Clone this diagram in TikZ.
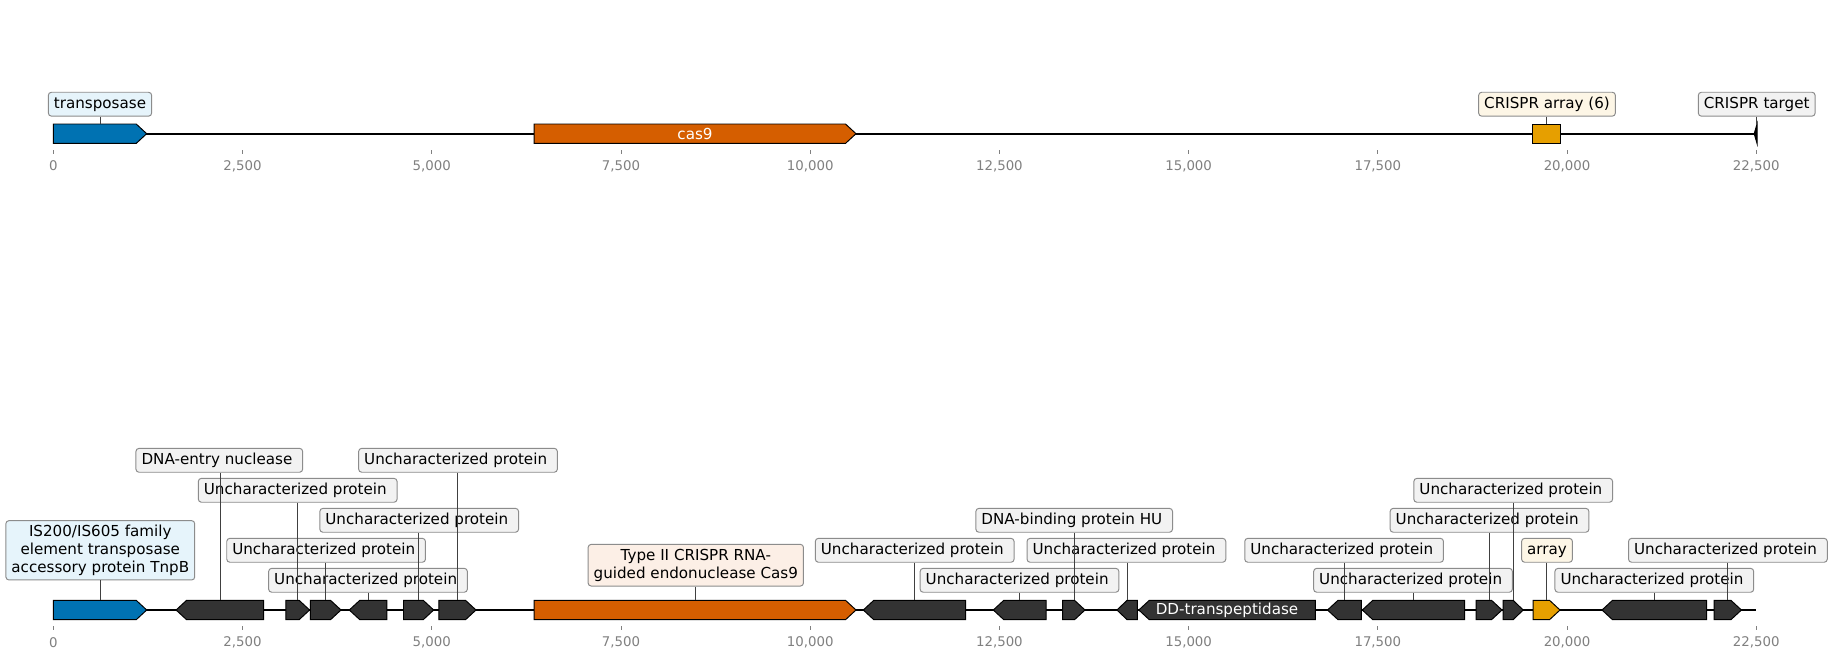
\documentclass[tikz,border=0pt]{standalone}
\usepackage{fontspec}
\setmainfont{DejaVu Sans}
\definecolor{cblue}{HTML}{0072B2}
\definecolor{cverm}{HTML}{D55E00}
\definecolor{corange}{HTML}{E69F00}
\definecolor{cdark}{HTML}{333333}
\definecolor{bxblue}{HTML}{E6F4FB}
\definecolor{bxverm}{HTML}{FCEFE6}
\definecolor{bxorange}{HTML}{FDF6E6}
\definecolor{bxgray}{HTML}{F2F2F2}
\definecolor{tickgray}{HTML}{808080}
\newcommand\lblfont{\fontsize{10.9}{12.8}\selectfont}
\newcommand\tkfont{\fontsize{9.6}{11}\selectfont}
\newcommand\trsp{\kern3.4pt}
% forward gene: name, x1, x2, yc, colour
\newcommand\gfwd[5]{%
  \pgfmathsetmacro\gfhd{min(10.5,(#3-#2)/2)}%
  \pgfmathsetmacro\gfsh{#3-\gfhd}%
  \draw[feat, fill=#5] (#2,#4-9.7) -- (\gfsh,#4-9.7) -- (#3,#4) -- (\gfsh,#4+9.7) -- (#2,#4+9.7) -- cycle;
  \coordinate (#1) at ({(#2+#3)/2},#4-9.7);}
% reverse gene
\newcommand\grev[5]{%
  \pgfmathsetmacro\gfhd{min(10.5,(#3-#2)/2)}%
  \pgfmathsetmacro\gfsh{#2+\gfhd}%
  \draw[feat, fill=#5] (#3,#4-9.7) -- (\gfsh,#4-9.7) -- (#2,#4) -- (\gfsh,#4+9.7) -- (#3,#4+9.7) -- cycle;
  \coordinate (#1) at ({(#2+#3)/2},#4-9.7);}
\begin{document}
\begin{tikzpicture}[x=0.72pt,y=-0.72pt,
  feat/.style={draw=black, line width=0.7pt, line join=miter},
  lbl/.style={draw=black!45, line width=0.7pt, rounded corners=2.2pt, inner xsep=4pt, inner ysep=0pt,
    minimum height=17.2pt, text height=8.1pt, text depth=2.5pt, font=\lblfont, fill=#1},
  lbl/.default=bxgray,
  lblm/.style={draw=black!45, line width=0.7pt, rounded corners=2.2pt, inner xsep=4pt, inner ysep=0pt,
    align=center, font=\lblfont, fill=#1},
  leader/.style={draw=black!75, line width=0.5pt},
  axisline/.style={draw=black, line width=1.4pt},
  tickmark/.style={draw=tickgray, line width=0.6pt},
  ticklbl/.style={font=\tkfont, text=tickgray, inner sep=0pt},
  inlbl/.style={font=\lblfont, text=white, inner sep=0pt}]
\useasboundingbox (0,0) rectangle (1833,659);
\fill[white] (0,0) rectangle (1833,659);

% ---------------- top track ----------------
\coordinate (ta) at (53.3,133.7);
\coordinate (tb) at (1756.3,133.7);
\draw[axisline] (ta) -- (tb);
\foreach \k/\t in {0/0,1/{2,500},2/{5,000},3/{7,500},4/{10,000},5/{12,500},6/{15,000},7/{17,500},8/{20,000},9/{22,500}}{
  \draw[tickmark] (53.3+\k*189.22,150) -- (53.3+\k*189.22,153.6);
  \node[ticklbl] (tt\k) at (53.3+\k*189.22,166) {\t};
}
\gfwd{t1}{53.3}{146.7}{133.7}{cblue}
\gfwd{t2}{534.2}{856}{133.7}{cverm}
\node[inlbl] (t2l) at (695,133.7) {cas9};
\draw[feat, fill=corange] (1532.7,124) rectangle (1560.7,143.4);
\coordinate (t3) at (1546.7,124);
\draw[feat, fill=black] (1757,124) -- (1757,143.4) -- (1754.2,133.7) -- cycle;
\coordinate (t4) at (1756.3,124);

\node[lbl=bxblue] (lt1) at (100,104.2) {transposase};
\node[lbl=bxorange] (lt3) at (1547,104.2) {CRISPR array (6)};
\node[lbl] (lt4) at (1756.7,104.2) {CRISPR target};
\draw[leader] (lt1.south -| t1) -- (t1);
\draw[leader] (lt3.south -| t3) -- (t3);
\draw[leader] (lt4.south -| t4) -- (t4);

% ---------------- bottom track ----------------
\coordinate (ba) at (53.3,610);
\coordinate (bb) at (1756.3,610);
\draw[axisline] (ba) -- (bb);
\foreach \k/\t in {0/0,1/{2,500},2/{5,000},3/{7,500},4/{10,000},5/{12,500},6/{15,000},7/{17,500},8/{20,000},9/{22,500}}{
  \draw[tickmark] (53.3+\k*189.22,626.3) -- (53.3+\k*189.22,629.9);
  \node[ticklbl] (bt\k) at (53.3+\k*189.22,642.3) {\t};
}
\gfwd{b1}{53.3}{146.7}{610}{cblue}
\grev{b2}{176.1}{263.7}{610}{cdark}
\gfwd{b3}{285.9}{309.6}{610}{cdark}
\gfwd{b4}{310.4}{341}{610}{cdark}
\grev{b5}{349.3}{386.9}{610}{cdark}
\gfwd{b6}{403.5}{433.7}{610}{cdark}
\gfwd{b7}{438.8}{476}{610}{cdark}
\gfwd{b8}{534.2}{856}{610}{cverm}
\grev{b9}{863.3}{965.7}{610}{cdark}
\grev{b10}{993.3}{1046}{610}{cdark}
\gfwd{b11}{1062.7}{1085}{610}{cdark}
\grev{b12}{1116.9}{1137.3}{610}{cdark}
\grev{b13}{1138.8}{1315.4}{610}{cdark}
\node[inlbl] (b13l) at (1227,610) {DD-transpeptidase};
\grev{b14}{1327.5}{1361.3}{610}{cdark}
\grev{b15}{1362.3}{1464.6}{610}{cdark}
\gfwd{b16}{1476.2}{1502}{610}{cdark}
\gfwd{b17}{1503}{1523.2}{610}{cdark}
\gfwd{b18}{1533}{1560}{610}{corange}
\grev{b19}{1602}{1706.5}{610}{cdark}
\gfwd{b20}{1714}{1741.4}{610}{cdark}

\node[lblm=bxblue, minimum height=42.7pt] (lb1) at (100.3,550.3) {IS200/IS605 family\\element transposase\\accessory protein TnpB};
\node[lbl] (lb2) at (219.3,460.3) {DNA-entry nuclease\trsp};
\node[lbl] (lb3) at (297.7,490.3) {Uncharacterized protein\trsp};
\node[lbl] (lb4) at (326.1,550.3) {Uncharacterized protein\trsp};
\node[lbl] (lb5) at (368,580.3) {Uncharacterized protein\trsp};
\node[lbl] (lb6) at (419.2,520.3) {Uncharacterized protein\trsp};
\node[lbl] (lb7) at (458,460.3) {Uncharacterized protein\trsp};
\node[lblm=bxverm, minimum height=30pt] (lb8) at (695.8,565.2) {Type II CRISPR RNA-\\guided endonuclease Cas9};
\node[lbl] (lb9) at (914.7,550.3) {Uncharacterized protein\trsp};
\node[lbl] (lb10) at (1019.5,580.3) {Uncharacterized protein\trsp};
\node[lbl] (lb11) at (1074.2,520.3) {DNA-binding protein HU\trsp};
\node[lbl] (lb12) at (1126.4,550.3) {Uncharacterized protein\trsp};
\node[lbl] (lb14) at (1344.1,550.3) {Uncharacterized protein\trsp};
\node[lbl] (lb15) at (1413,580.3) {Uncharacterized protein\trsp};
\node[lbl] (lb16) at (1489.5,520.3) {Uncharacterized protein\trsp};
\node[lbl] (lb17) at (1513.2,490.3) {Uncharacterized protein\trsp};
\node[lbl=bxorange] (lb18) at (1547,550.3) {array};
\node[lbl] (lb19) at (1654.3,580.3) {Uncharacterized protein\trsp};
\node[lbl] (lb20) at (1727.9,550.3) {Uncharacterized protein\trsp};

\foreach \i in {1,2,3,4,5,6,7,8,9,10,11,12,14,15,16,17,18,19,20}{
  \draw[leader] (lb\i.south -| b\i) -- (b\i);
}
\end{tikzpicture}
\end{document}
